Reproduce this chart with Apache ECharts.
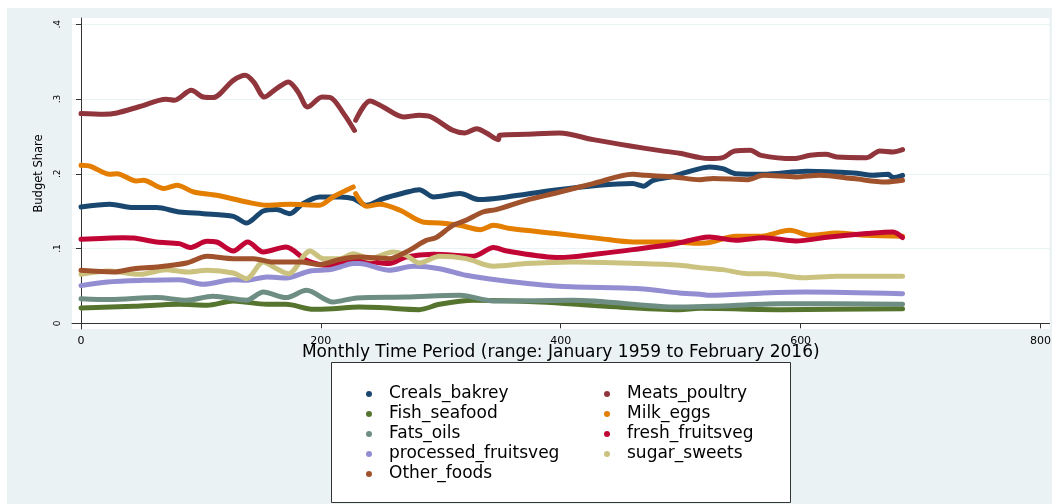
<!DOCTYPE html>
<html>
<head>
<meta charset="utf-8">
<title>Budget Share</title>
<script src="https://cdn.jsdelivr.net/npm/echarts@6/dist/echarts.min.js"></script>
<style>
  html, body { margin: 0; padding: 0; background: #fff; }
  #main { width: 1054px; height: 504px; }
</style>
</head>
<body>
<div id="main"></div>
<script>
// [month since Jan 1959, budget share]
var crealsBakrey = [[0,.1556],[24,.1592],[44,.1548],[63,.1548],[82,.1489],[102,.1467],[127,.1431],[138,.1342],[152,.1502],[163,.1521],[174,.1467],[185,.1601],[199,.169],[216,.169],[227,.1668],[238,.1579],[252,.1668],[269,.1743],[282,.1788],[294,.169],[316,.1735],[332,.1655],[355,.169],[394,.1779],[432,.1846],[460,.1869],[469,.1833],[477,.1913],[494,.1967],[499,.1993],[516,.207],[524,.2091],[535,.2069],[546,.2002],[569,.1993],[605,.2033],[644,.2011],[660,.198],[673,.1993],[677,.1949],[685,.198]];
var meatsPoultry = [[0,.2806],[19,.2796],[30,.2814],[49,.290],[71,.2997],[78,.2983],[92,.3117],[102,.3027],[110,.302],[127,.325],[137,.3318],[144,.3228],[153,.3027],[163,.314],[173,.3228],[181,.3095],[189,.2894],[201,.3027],[208,.302],[219,.2805],[228,.258],[228.5,'-'],[229,.2716],[241,.2974],[252,.2894],[269,.276],[282,.2783],[292,.276],[310,.2582],[320,.2546],[330,.2604],[338,.2546],[348,.2457],[349,.2515],[371,.2528],[399,.2546],[427,.2457],[458,.2372],[483,.231],[499,.2275],[516,.2216],[524,.2203],[535,.2216],[545,.2305],[558,.2314],[567,.2247],[594,.2203],[608,.2247],[621,.226],[630,.2225],[655,.2216],[666,.2305],[677,.2292],[685,.2323]];
var fishSeafood = [[0,.0205],[44,.0227],[82,.0254],[105,.0241],[127,.0299],[155,.0254],[171,.0254],[194,.0187],[210,.0196],[232,.0218],[249,.021],[282,.0183],[299,.0254],[327,.0308],[383,.0285],[438,.0227],[499,.0183],[516,.02],[583,.0183],[685,.0196]];
var milkEggs = [[0,.2114],[8,.21],[24,.1993],[30,.2002],[46,.1904],[52,.1913],[69,.1802],[80,.1846],[94,.1757],[113,.1712],[138,.1623],[155,.1579],[174,.1592],[199,.1579],[210,.169],[227,.1824],[228,'-'],[229,.1735],[238,.1565],[249,.1592],[266,.1512],[285,.1355],[299,.1342],[316,.1311],[333,.1253],[344,.1311],[358,.1267],[396,.12],[433,.1133],[460,.1088],[494,.1088],[516,.107],[524,.108],[546,.1164],[566,.1164],[591,.1244],[608,.1177],[630,.1208],[655,.1177],[685,.1164]];
var fatsOils = [[0,.033],[24,.0317],[63,.0344],[88,.0308],[110,.0361],[138,.0308],[152,.0419],[171,.0344],[188,.0441],[210,.0285],[230,.034],[271,.0352],[316,.0375],[344,.0299],[410,.0308],[499,.0218],[527,.0227],[583,.0263],[685,.0254]];
var freshFruitsveg = [[0,.1124],[35,.1146],[44,.1141],[63,.1088],[82,.1066],[91,.1013],[105,.1097],[113,.1088],[127,.0967],[139,.1088],[152,.0954],[171,.1021],[188,.0843],[205,.0776],[216,.0799],[232,.0843],[257,.0799],[271,.0887],[294,.0923],[327,.0896],[344,.1013],[355,.0967],[399,.0879],[432,.0932],[460,.0986],[494,.106],[516,.114],[524,.1155],[546,.111],[569,.1146],[596,.1101],[624,.1155],[655,.12],[677,.1222],[685,.1146]];
var processedFruitsveg = [[0,.0504],[22,.0553],[52,.0575],[82,.0584],[102,.0522],[127,.0584],[138,.0575],[155,.062],[171,.0607],[191,.07],[208,.0718],[216,.0753],[227,.0799],[232,.0799],[257,.0709],[277,.0763],[299,.0731],[321,.0642],[349,.0575],[399,.0495],[466,.0464],[499,.0406],[516,.039],[524,.0375],[569,.0406],[605,.0419],[685,.0397]];
var sugarSweets = [[0,.0655],[24,.07],[49,.0655],[71,.0718],[88,.0686],[105,.0709],[127,.0673],[138,.0597],[152,.082],[163,.0731],[173,.0664],[191,.0967],[202,.0865],[216,.0865],[227,.0932],[241,.0865],[260,.0954],[271,.091],[282,.0807],[299,.0896],[321,.0865],[344,.0763],[371,.0799],[410,.082],[466,.0799],[499,.0776],[516,.0745],[535,.0718],[556,.0664],[571,.0664],[602,.0611],[630,.0629],[655,.0629],[685,.0629]];
var otherFoods = [[0,.0709],[27,.0686],[44,.0731],[63,.0753],[88,.0807],[105,.0896],[127,.0865],[144,.0865],[160,.082],[183,.082],[199,.0785],[216,.0855],[232,.0887],[257,.0865],[271,.0954],[288,.111],[296,.1146],[310,.1311],[321,.1378],[335,.1489],[346,.1521],[371,.1645],[396,.1743],[427,.1869],[460,.1993],[471,.198],[494,.1958],[516,.1922],[527,.1936],[556,.1922],[569,.198],[596,.1958],[616,.198],[644,.1936],[671,.189],[685,.1913]];

var seriesNames = ['Creals_bakrey', 'Meats_poultry', 'Fish_seafood', 'Milk_eggs', 'Fats_oils',
  'fresh_fruitsveg', 'processed_fruitsveg', 'sugar_sweets', 'Other_foods'];
var seriesData = [crealsBakrey, meatsPoultry, fishSeafood, milkEggs, fatsOils,
  freshFruitsveg, processedFruitsveg, sugarSweets, otherFoods];
var seriesColors = ['#1a476f', '#90353b', '#55752f', '#e37e00', '#6e8e84',
  '#c10534', '#938dd2', '#cac27e', '#a0522d'];
var xTicks = [0, 200, 400, 600, 800];
var yTicks = [0, 0.1, 0.2, 0.3, 0.4];

var font = 'DejaVu Sans';

var myChart = echarts.init(document.getElementById('main'));

var series = seriesNames.map(function (name, i) {
  return {
    name: name,
    type: 'line',
    data: seriesData[i],
    color: seriesColors[i],
    showSymbol: false,
    smooth: 0.3,
    connectNulls: false,
    lineStyle: { width: 5, cap: 'round', join: 'round' },
    emphasis: { disabled: true }
  };
});

var legendText = { fontFamily: font, fontSize: 17, lineHeight: 20, color: '#000' };

var option = {
  animation: false,
  backgroundColor: '#eaf2f3',
  textStyle: { fontFamily: font },
  grid: {
    show: true, backgroundColor: '#fff', borderWidth: 0,
    left: 72, right: 4, top: 18, bottom: 175
  },
  xAxis: {
    type: 'value',
    min: -7.5,
    max: 807.5,
    name: 'Monthly Time Period (range: January 1959 to February 2016)',
    nameLocation: 'middle',
    nameGap: 15,
    nameMoveOverlap: false,
    nameTextStyle: { fontSize: 17, color: '#000' },
    axisLine: { show: true, lineStyle: { color: '#333', width: 1 } },
    axisTick: { show: true, length: 5, customValues: xTicks, lineStyle: { color: '#333' } },
    axisLabel: { customValues: xTicks, fontSize: 11, margin: 7, color: '#000' },
    splitLine: { show: false }
  },
  yAxis: {
    type: 'value',
    min: -0.0076,
    max: 0.4084,
    name: 'Budget Share',
    nameLocation: 'middle',
    nameRotate: 90,
    nameGap: 27,
    nameMoveOverlap: false,
    nameTextStyle: { fontSize: 11.5, color: '#000' },
    axisLine: { show: true, lineStyle: { color: '#333', width: 1 } },
    axisTick: { show: true, length: 5, customValues: yTicks, lineStyle: { color: '#333' } },
    axisLabel: {
      customValues: yTicks, rotate: 90, fontSize: 9, margin: 10, color: '#000',
      formatter: function (v) { return v === 0 ? '0' : String(v).replace(/^0/, ''); }
    },
    splitLine: { show: true, lineStyle: { color: '#eaf2f3', width: 1 } }
  },
  legend: [
    {
      data: ['Creals_bakrey', 'Fish_seafood', 'Fats_oils', 'processed_fruitsveg', 'Other_foods'],
      orient: 'vertical', left: 366, top: 384, padding: 0,
      itemWidth: 30, itemHeight: 6, itemGap: 0, icon: 'circle',
      selectedMode: false, textStyle: legendText
    },
    {
      data: ['Meats_poultry', 'Milk_eggs', 'fresh_fruitsveg', 'sugar_sweets'],
      orient: 'vertical', left: 604, top: 384, padding: 0,
      itemWidth: 30, itemHeight: 6, itemGap: 0, icon: 'circle',
      selectedMode: false, textStyle: legendText
    }
  ],
  graphic: [
    // white page margins round the grey graph region
    { type: 'rect', silent: true, shape: { x: 0, y: 0, width: 1054, height: 8 }, style: { fill: '#fff' } },
    { type: 'rect', silent: true, shape: { x: 0, y: 0, width: 7, height: 504 }, style: { fill: '#fff' } },
    { type: 'rect', silent: true, shape: { x: 1052, y: 0, width: 2, height: 504 }, style: { fill: '#fff' } },
    // legend box
    { type: 'rect', silent: true, shape: { x: 331.5, y: 362.5, width: 459, height: 140 },
      style: { fill: '#fff', stroke: '#333', lineWidth: 1 } }
  ],
  series: series
};

myChart.setOption(option);
</script>
</body>
</html>
